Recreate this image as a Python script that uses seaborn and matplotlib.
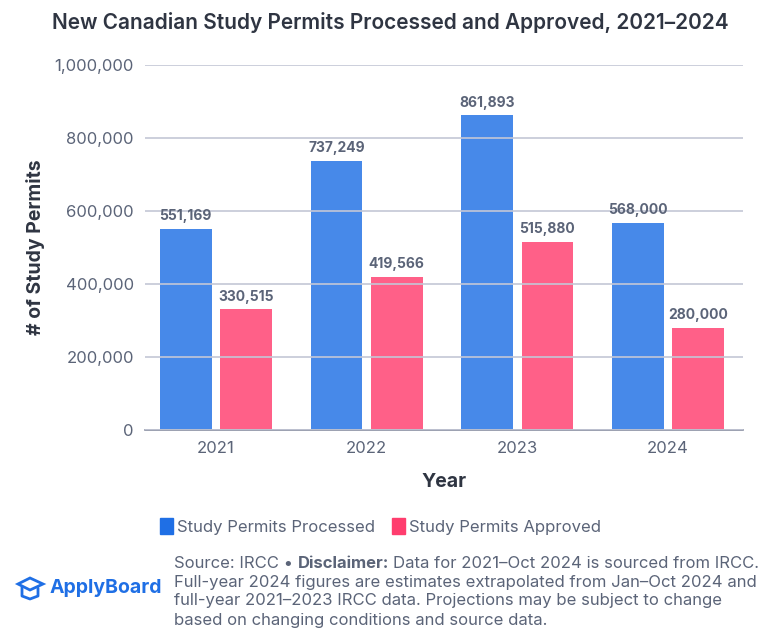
import numpy as np
import pandas as pd
import matplotlib
matplotlib.use('Agg')
import matplotlib.pyplot as plt
import seaborn as sns
from matplotlib.patches import Polygon

# Data
years = ['2021', '2022', '2023', '2024']
processed = [551169, 737249, 861893, 568000]
approved = [330515, 419566, 515880, 280000]
series_names = ['Study Permits Processed', 'Study Permits Approved']

df = pd.DataFrame({
    'Year': years * 2,
    'Permits': processed + approved,
    'Series': [series_names[0]] * 4 + [series_names[1]] * 4,
})

sns.set_style("white")
plt.rcParams['font.family'] = ['Inter', 'DejaVu Sans']

TEXT = '#2f3542'
GREY = '#5b6478'
BLUE = '#1f6fe5'
PINK = '#ff3d6e'

fig = plt.figure(figsize=(7.8, 6.37), dpi=100)
ax = fig.add_axes([0.186, 0.325, 0.767, 0.573])

sns.barplot(data=df, x='Year', y='Permits', hue='Series', order=years,
            hue_order=series_names, palette=[BLUE, PINK], width=0.8, gap=0.14,
            saturation=1, alpha=0.82, linewidth=0, edgecolor='none',
            ax=ax, legend=False, zorder=1)

ax.set_ylim(0, 1000000)
ax.set_xlim(-0.47, 3.5)
ax.set_yticks(np.arange(0, 1000001, 200000))
ax.set_yticklabels([f'{v:,}' for v in range(0, 1000001, 200000)])
ax.yaxis.grid(True, color='#c3c7d6', linewidth=1.2, zorder=3)
ax.set_axisbelow(False)
for s in ['top', 'right', 'left']:
    ax.spines[s].set_visible(False)
ax.spines['bottom'].set_color('#8a90a3')
ax.spines['bottom'].set_linewidth(1.2)
ax.tick_params(axis='both', length=0, labelsize=12, labelcolor=GREY, pad=8)

ax.set_xlabel('Year', fontsize=14, fontweight='bold', color=TEXT, labelpad=12)
ax.set_ylabel('# of Study Permits', fontsize=14, fontweight='bold', color=TEXT, labelpad=7)

for cont in ax.containers:
    ax.bar_label(cont, labels=[f'{int(v):,}' for v in cont.datavalues],
                 padding=4, fontsize=10, fontweight='bold', color=GREY)

fig.text(0.5, 0.965, 'New Canadian Study Permits Processed and Approved, 2021\u20132024',
         ha='center', va='center', fontsize=15, fontweight='semibold', color=TEXT)

# legend
handles = [plt.Rectangle((0, 0), 1, 1, color=c) for c in [BLUE, PINK]]
fig.legend(handles, series_names, loc='center', bbox_to_anchor=(0.488, 0.173), ncol=2,
           frameon=False, fontsize=12, handlelength=0.8, handleheight=1.1,
           handletextpad=0.25, columnspacing=1.0, labelcolor=GREY)

# footer
FS = 12
fx = 174 / 780
lines_y = [563, 582, 601, 620]
t0 = fig.text(fx, 1 - lines_y[0] / 637, 'Source: IRCC \u2022 ', ha='left', va='center',
              fontsize=FS, color=GREY)
fig.canvas.draw()
rend = fig.canvas.get_renderer()
bb = t0.get_window_extent(renderer=rend)
t1 = fig.text(bb.x1 / 780, 1 - lines_y[0] / 637, 'Disclaimer:', ha='left', va='center',
              fontsize=FS, color=GREY, fontweight='bold')
bb1 = t1.get_window_extent(renderer=rend)
fig.text(bb1.x1 / 780 + 0.005, 1 - lines_y[0] / 637,
         'Data for 2021\u2013Oct 2024 is sourced from IRCC.', ha='left', va='center',
         fontsize=FS, color=GREY)
rest = ['Full-year 2024 figures are estimates extrapolated from Jan\u2013Oct 2024 and',
        'full-year 2021\u20132023 IRCC data. Projections may be subject to change',
        'based on changing conditions and source data.']
for ly, txt in zip(lines_y[1:], rest):
    fig.text(fx, 1 - ly / 637, txt, ha='left', va='center', fontsize=FS, color=GREY)

# ApplyBoard logo
fig.text(50 / 780, 1 - 588 / 637, 'ApplyBoard', ha='left', va='center', fontsize=14,
         fontweight='bold', color='#1f6fe5')
cap = Polygon([[18 / 780, 1 - 584 / 637], [30 / 780, 1 - 578 / 637],
               [43 / 780, 1 - 584 / 637], [30 / 780, 1 - 590 / 637]],
              closed=True, fill=False, edgecolor='#1f6fe5', linewidth=2,
              transform=fig.transFigure)
fig.patches.append(cap)
fig.lines.append(plt.Line2D([22 / 780, 22 / 780, 30 / 780, 38 / 780, 38 / 780],
                            [1 - 587 / 637, 1 - 596 / 637, 1 - 599 / 637, 1 - 596 / 637, 1 - 588 / 637],
                            color='#1f6fe5', linewidth=2, transform=fig.transFigure))

fig.savefig('out.png', dpi=100)
